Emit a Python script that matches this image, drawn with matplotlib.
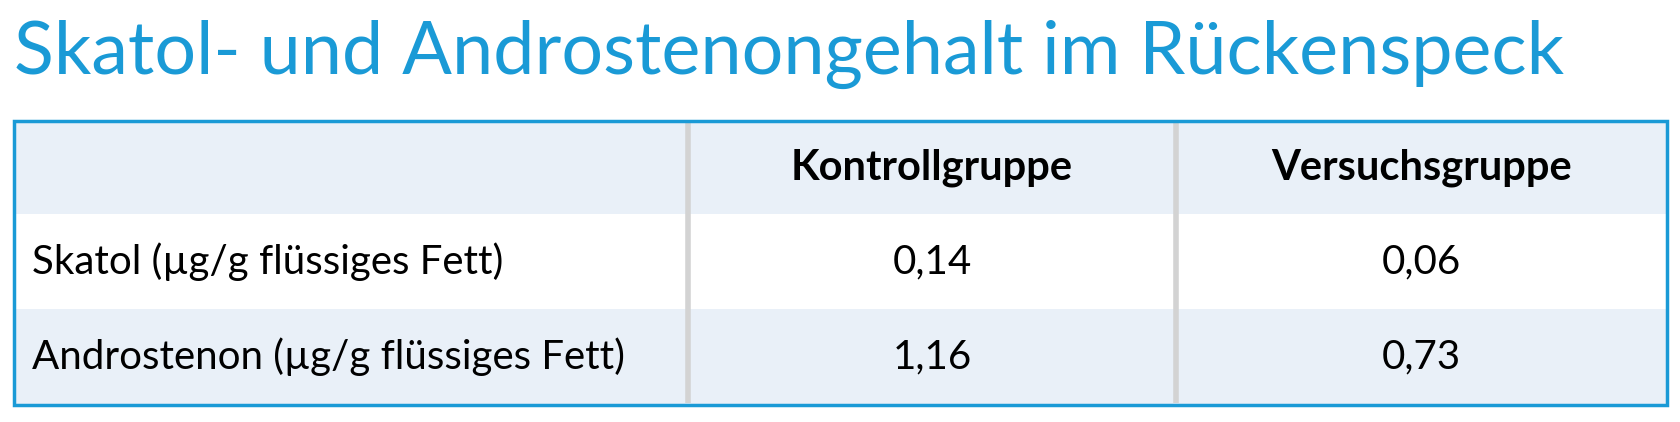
import matplotlib
matplotlib.use("Agg")
import matplotlib.pyplot as plt
from matplotlib.patches import Rectangle

title = "Skatol- und Androstenongehalt im Rückenspeck"
columns = ["", "Kontrollgruppe", "Versuchsgruppe"]
row_labels = ["Skatol (µg/g flüssiges Fett)", "Androstenon (µg/g flüssiges Fett)"]
kontroll = ["0,14", "1,16"]
versuch = ["0,06", "0,73"]

W, H = 1681, 422
fig = plt.figure(figsize=(W / 100, H / 100), dpi=100)
ax = fig.add_axes([0, 0, 1, 1])
ax.set_xlim(0, W)
ax.set_ylim(H, 0)
ax.axis("off")

blue = "#1a9ad6"
light = "#e9f0f8"
grid = "#d3d3d3"

ax.text(14, 54, title, fontsize=53, color=blue, va="center", ha="left",
        family="Lato")

left, right = 14, 1667
col_x = [left, 688, 1176, right]
row_y = [121, 214, 309, 405]

for i in range(3):
    fc = light if i != 1 else "white"
    ax.add_patch(Rectangle((left, row_y[i]), right - left, row_y[i + 1] - row_y[i],
                           facecolor=fc, edgecolor="none", zorder=1))
for x in col_x[1:3]:
    ax.plot([x, x], [row_y[0] + 2, row_y[-1] - 2], color=grid, lw=4, zorder=2,
            solid_capstyle="butt")
ax.add_patch(Rectangle((left, row_y[0]), right - left, row_y[-1] - row_y[0],
                       facecolor="none", edgecolor=blue, lw=2.5, zorder=3))

centers = [(col_x[1] + col_x[2]) / 2, (col_x[2] + col_x[3]) / 2]
hy = (row_y[0] + row_y[1]) / 2
for cx, lab in zip(centers, columns[1:]):
    ax.text(cx, hy, lab, fontsize=30, fontweight="bold", ha="center",
            va="center", family="Lato", zorder=4)

for i, lab in enumerate(row_labels):
    cy = (row_y[i + 1] + row_y[i + 2]) / 2
    ax.text(32, cy, lab, fontsize=29, ha="left", va="center", family="Lato", zorder=4)
    ax.text(centers[0], cy, kontroll[i], fontsize=29, ha="center", va="center",
            family="Lato", zorder=4)
    ax.text(centers[1], cy, versuch[i], fontsize=29, ha="center", va="center",
            family="Lato", zorder=4)

fig.savefig("out.png", dpi=100, facecolor="white")
